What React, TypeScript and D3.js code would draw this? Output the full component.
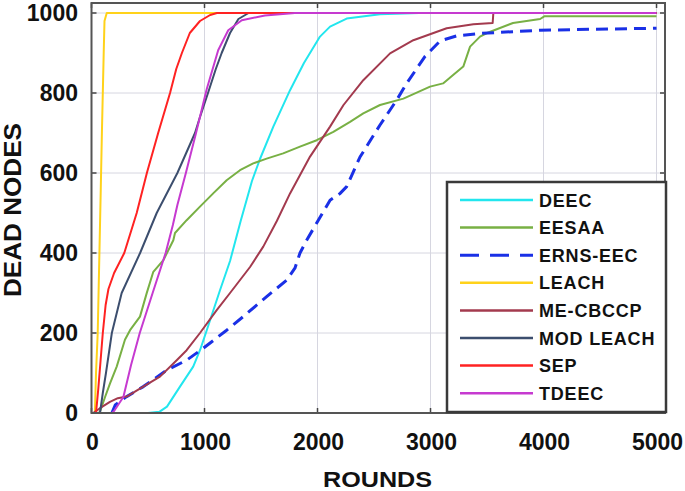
import React from "react";
import * as d3 from "d3";

const xTicks = [0, 1000, 2000, 3000, 4000, 5000];
const yTicks = [0, 200, 400, 600, 800, 1000];

const seriesNames = ["DEEC", "EESAA", "ERNS-EEC", "LEACH", "ME-CBCCP", "MOD LEACH", "SEP", "TDEEC"];
const seriesColors = ["#22e6ee", "#78b044", "#1a30e6", "#ffd21a", "#a33a4e", "#3c4e6e", "#ff2222", "#c63ad0"];

const deec: [number, number][] = [
  [0, 0], [500, 0], [600, 3], [668, 16], [783, 66], [900, 116], [960, 157], [1020, 207],
  [1137, 307], [1226, 380], [1320, 480], [1420, 580], [1491, 635], [1609, 716], [1757, 807],
  [1880, 875], [2022, 941], [2111, 966], [2258, 986], [2553, 997], [2900, 1000], [5000, 1000],
];
const eesaa: [number, number][] = [
  [0, 0], [60, 0], [75, 3], [120, 40], [164, 74], [223, 116], [296, 183], [341, 207], [429, 241],
  [488, 299], [547, 353], [636, 382], [724, 432], [739, 450], [842, 482], [960, 516], [1077, 549],
  [1196, 582], [1314, 607], [1431, 624], [1550, 636], [1696, 649], [1845, 666], [1993, 682],
  [2140, 703], [2288, 728], [2405, 749], [2553, 770], [2760, 786], [2996, 816], [3111, 824],
  [3200, 845], [3290, 866], [3350, 916], [3438, 941], [3500, 950], [3730, 975], [3970, 985],
  [4010, 992], [5000, 992],
];
const ernsEec: [number, number][] = [
  [180, 0], [210, 20], [311, 41], [459, 66], [665, 107], [842, 132], [990, 162], [1196, 207],
  [1343, 241], [1550, 291], [1727, 332], [1800, 362], [1845, 400], [1904, 432], [2111, 532],
  [2200, 549], [2258, 566], [2376, 640], [2553, 720], [2700, 782], [2789, 824], [2950, 891],
  [3084, 930], [3232, 943], [3438, 949], [3969, 957], [5000, 962],
];
const leach: [number, number][] = [
  [0, 0], [30, 0], [40, 100], [55, 200], [70, 400], [82, 560], [92, 700], [100, 800],
  [108, 900], [115, 980], [135, 1000], [5000, 1000],
];
const meCbccp: [number, number][] = [
  [0, 0], [15, 0], [75, 12], [163, 28], [233, 37], [311, 41], [458, 66], [606, 91], [754, 132],
  [842, 157], [960, 200], [1108, 257], [1226, 300], [1403, 365], [1520, 416], [1640, 480],
  [1757, 549], [1934, 641], [2111, 716], [2230, 770], [2405, 832], [2642, 899], [2848, 932],
  [3143, 962], [3379, 972], [3550, 975], [3556, 1000], [5000, 1000],
];
const modLeach: [number, number][] = [
  [0, 0], [75, 0], [100, 50], [128, 100], [180, 200], [267, 300], [430, 400], [577, 500],
  [760, 600], [916, 700], [960, 740], [1031, 800], [1100, 860], [1152, 900], [1226, 950],
  [1300, 985], [1390, 1000], [5000, 1000],
];
const sep: [number, number][] = [
  [0, 0], [40, 0], [60, 60], [80, 130], [100, 200], [125, 270], [150, 310], [200, 350],
  [290, 400], [400, 500], [490, 600], [590, 700], [695, 800], [750, 860], [800, 900],
  [870, 950], [960, 980], [1050, 995], [1110, 1000], [5000, 1000],
];
const tdeec: [number, number][] = [
  [0, 0], [180, 0], [200, 5], [282, 40], [350, 120], [427, 200], [541, 300], [656, 400],
  [720, 470], [760, 520], [835, 600], [925, 700], [1020, 810], [1121, 907], [1210, 957],
  [1330, 982], [1535, 994], [1800, 1000], [5000, 1000],
];

const seriesData = [deec, eesaa, ernsEec, leach, meCbccp, modLeach, sep, tdeec];

const W = 685;
const H = 491;
const L = 91.5;
const R = 665;
const T = 3;
const B = 413;
const FONT = "'Liberation Sans', Arial, Helvetica, sans-serif";

export default function App() {
  const x = d3.scaleLinear().domain([0, 5075]).range([L, R]);
  const y = d3.scaleLinear().domain([0, 1025]).range([B, T]);
  const line = d3
    .line<[number, number]>()
    .x((d) => x(d[0]))
    .y((d) => y(d[1]));

  const legX = 447;
  const legY = 182;
  const legW = 219;
  const legH = 230;
  const rowY0 = 200;
  const rowStep = 27.6;

  return (
    <svg
      width={W}
      height={H}
      style={{ position: "absolute", left: 0, top: 0, background: "#fff" }}
      fontFamily={FONT}
      fontWeight="bold"
    >
      <rect x={0} y={0} width={W} height={H} fill="#fff" />
      {/* grid */}
      {xTicks.filter((t) => t > 0).map((t) => (
        <line key={"gx" + t} x1={x(t)} x2={x(t)} y1={T} y2={B} stroke="#d6d6e0" strokeWidth={1} />
      ))}
      {yTicks.filter((t) => t > 0).map((t) => (
        <line key={"gy" + t} x1={L} x2={R} y1={y(t)} y2={y(t)} stroke="#d6d6e0" strokeWidth={1} />
      ))}
      {/* series */}
      <g fill="none" strokeLinejoin="round" strokeLinecap="butt">
        {seriesData.map((d, i) => (
          <path
            key={seriesNames[i]}
            d={line(d) || ""}
            stroke={seriesColors[i]}
            strokeWidth={seriesNames[i] === "ERNS-EEC" ? 3 : 2}
            strokeDasharray={seriesNames[i] === "ERNS-EEC" ? "12,7" : undefined}
          />
        ))}
      </g>
      {/* ticks */}
      {xTicks.map((t) => (
        <g key={"tx" + t}>
          <line x1={x(t)} x2={x(t)} y1={B} y2={B - 5} stroke="#444" strokeWidth={1.5} />
          <line x1={x(t)} x2={x(t)} y1={T} y2={T + 5} stroke="#444" strokeWidth={1.5} />
          <text x={x(t) + 1} y={449.5} fontSize={23} textAnchor="middle" fill="#111">
            {t}
          </text>
        </g>
      ))}
      {yTicks.map((t) => (
        <g key={"ty" + t}>
          <line x1={L} x2={L + 5} y1={y(t)} y2={y(t)} stroke="#444" strokeWidth={1.5} />
          <line x1={R} x2={R - 5} y1={y(t)} y2={y(t)} stroke="#444" strokeWidth={1.5} />
          <text x={78} y={y(t) + 8} fontSize={23} textAnchor="end" fill="#111">
            {t}
          </text>
        </g>
      ))}
      {/* frame */}
      <rect x={L} y={T} width={R - L} height={B - T} fill="none" stroke="#555" strokeWidth={2} />
      {/* legend */}
      <rect x={legX} y={legY} width={legW} height={legH} fill="#fff" stroke="#3a3a3a" strokeWidth={2.5} />
      {seriesNames.map((n, i) => {
        const yy = rowY0 + i * rowStep;
        const dashed = n === "ERNS-EEC";
        return (
          <g key={"leg" + n}>
            <line
              x1={460}
              x2={533}
              y1={yy}
              y2={yy}
              stroke={seriesColors[i]}
              strokeWidth={dashed ? 3 : 2.5}
              strokeDasharray={dashed ? "19,11" : undefined}
            />
            <text x={539} y={yy + 6.5} fontSize={18} letterSpacing={0.8} fill="#111">
              {n}
            </text>
          </g>
        );
      })}
      {/* axis titles */}
      <text
        x={377.5}
        y={487}
        fontSize={22}
        textAnchor="middle"
        textLength={109}
        lengthAdjust="spacingAndGlyphs"
        fill="#111"
      >
        ROUNDS
      </text>
      <text
        transform="translate(20.5,210) scale(1.1,1) rotate(-90)"
        fontSize={22}
        textAnchor="middle"
        textLength={174}
        lengthAdjust="spacingAndGlyphs"
        fill="#111"
      >
        DEAD NODES
      </text>
    </svg>
  );
}
